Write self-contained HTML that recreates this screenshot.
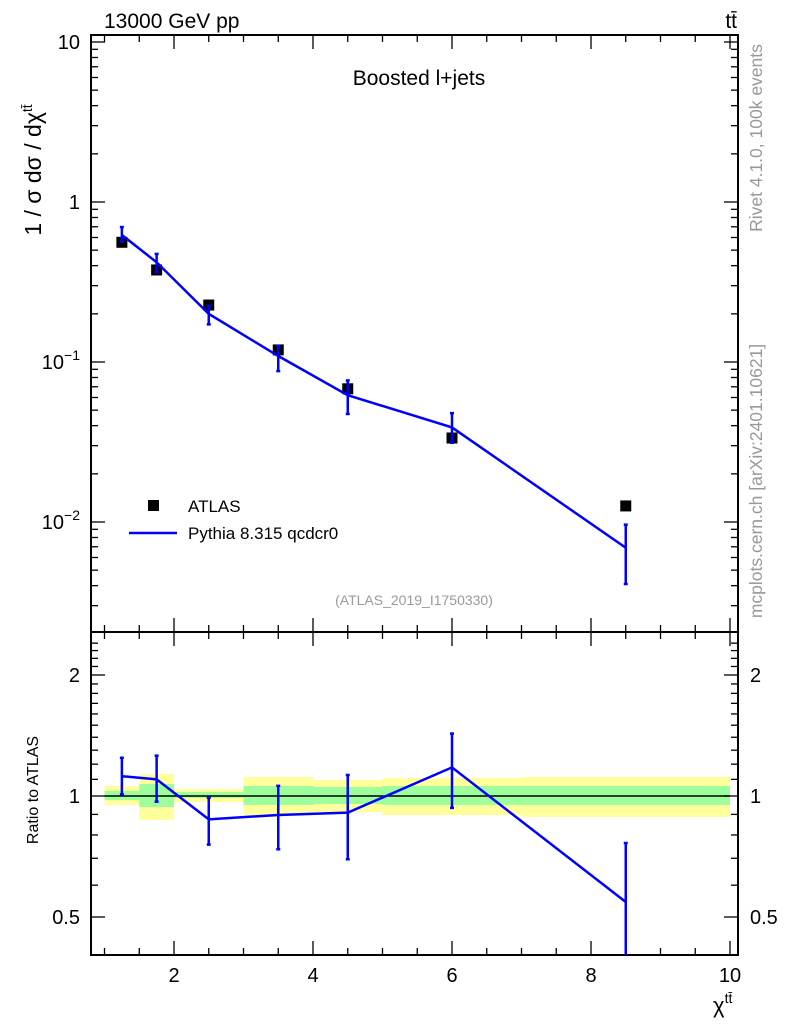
<!DOCTYPE html>
<html><head><meta charset="utf-8"><style>
html,body{margin:0;padding:0;background:#fff;}
svg{display:block;font-family:"Liberation Sans",sans-serif;}
</style></head><body>
<svg id="c" width="786" height="1024" viewBox="0 0 786 1024"></svg>
<script>
const binEdges=[1,1.5,2,3,4,5,7,10];
const xCenters=[1.25,1.75,2.5,3.5,4.5,6,8.5];
const dataVals=[0.56,0.376,0.227,0.119,0.068,0.0335,0.0126];
const mcVals=[0.622,0.42,0.2,0.109,0.062,0.039,0.0069];
const ratioVals=[1.12,1.10,0.875,0.897,0.909,1.178,0.545];
const ratioErrUp=[1.245,1.26,0.99,1.06,1.128,1.43,0.764];
const ratioErrDown=[1.01,0.968,0.757,0.737,0.696,0.934,0.325];
const statUp=[1.029,1.071,1.023,1.059,1.053,1.059,1.059];
const statDown=[0.977,0.939,0.989,0.95,0.955,0.95,0.95];
const totUp=[1.059,1.134,1.041,1.115,1.096,1.109,1.115];
const totDown=[0.95,0.872,0.966,0.897,0.912,0.897,0.887];
const xTicksMajor=[2,4,6,8,10];
const yMainLabels=[["10",1],["1",0],["10","-1"],["10","-2"]];
const ratioLabels=[2,1,0.5];

const NS="http://www.w3.org/2000/svg";
const svg=document.getElementById('c');
function el(t,a,p){const e=document.createElementNS(NS,t);for(const k in a)e.setAttribute(k,a[k]);(p||svg).appendChild(e);return e;}
const L=91,R=738,T=35,M=632,B=955;
const sx=v=>174+(v-2)*69.5;
const sy=v=>202-Math.log10(v)*160;
const sr=v=>796-Math.log10(v)*402;

const gb=el('g',{});
binEdges.slice(0,-1).forEach((e0,i)=>{
  const x0=sx(e0),x1=sx(binEdges[i+1]);
  const y1=el('rect',{x:x0,y:sr(totUp[i]),width:x1-x0,height:sr(totDown[i])-sr(totUp[i]),fill:'#ffff9c'},gb);
  
  const g1=el('rect',{x:x0,y:sr(statUp[i]),width:x1-x0,height:sr(statDown[i])-sr(statUp[i]),fill:'#9cff9c'},gb);
  
});
const ref=el('line',{x1:sx(1),x2:sx(10),y1:sr(1),y2:sr(1),stroke:'#000','stroke-width':1.5});


[[T,M,'main-plot-frame'],[M,B,'ratio-plot-frame']].forEach(([a,b,n])=>{const r=el('rect',{x:L,y:a,width:R-L,height:b-a,fill:'none',stroke:'#000','stroke-width':2});});

for(let v=1;v<=10.01;v+=0.5){
  const maj=xTicksMajor.includes(v);const len=maj?14:7;
  [[T,1],[M,-1],[M,1],[B,-1]].forEach(([y,d])=>el('line',{x1:sx(v),x2:sx(v),y1:y,y2:y+d*len,stroke:'#000','stroke-width':1.3}));
}
xTicksMajor.forEach(v=>{const t=el('text',{x:sx(v),y:982,'font-size':20,'text-anchor':'middle'});t.textContent=v;});
for(let d=-3;d<=1;d++)for(let m=1;m<=9;m++){const v=m*Math.pow(10,d);const y=sy(v);if(y<T||y>M)continue;const len=m==1?14:7;
  el('line',{x1:L,x2:L+len,y1:y,y2:y,stroke:'#000','stroke-width':1.3});el('line',{x1:R,x2:R-len,y1:y,y2:y,stroke:'#000','stroke-width':1.3});}
yMainLabels.forEach(([b,e])=>{const v=Math.pow(10,+e);const t=el('text',{x:80,y:sy(v)+7,'font-size':20,'text-anchor':'end'});
  if(e=="1"||e=="0"){t.textContent=(e=="1"?"10":"1");}else{t.textContent="10";const s=el('tspan',{dy:-9,'font-size':14},t);s.textContent="\u2212"+String(e).slice(1);}
  });
for(let v=0.4;v<=2.5;v+=0.1){const y=sr(v);if(y<M||y>B)continue;const maj=Math.abs(v-0.5)<1e-6||Math.abs(v-1)<1e-6||Math.abs(v-2)<1e-6;const len=maj?14:7;
  el('line',{x1:L,x2:L+len,y1:y,y2:y,stroke:'#000','stroke-width':1.3});el('line',{x1:R,x2:R-len,y1:y,y2:y,stroke:'#000','stroke-width':1.3});}
ratioLabels.forEach(v=>{[[80,'end'],[750,'start']].forEach(([x,a])=>{const t=el('text',{x:x,y:sr(v)+7,'font-size':20,'text-anchor':a});t.textContent=v;});});

const gd=el('g',{});
dataVals.forEach((v,i)=>{const x=sx(xCenters[i]),y=sy(v);
  const r=el('rect',{x:x-5.5,y:y-5.5,width:11,height:11,fill:'#000'},gd);});

const gm=el('g',{});
const pm=el('polyline',{points:mcVals.map((v,i)=>sx(xCenters[i])+','+sy(v)).join(' '),fill:'none',stroke:'#0000ff','stroke-width':2.5},gm);

function eb(x,y1,y2,g){el('line',{x1:x,x2:x,y1:y1,y2:y2,stroke:'#0000ff','stroke-width':2.5},g);el('line',{x1:x-2,x2:x+2,y1:y1,y2:y1,stroke:'#0000ff','stroke-width':2.5},g);el('line',{x1:x-2,x2:x+2,y1:y2,y2:y2,stroke:'#0000ff','stroke-width':2.5},g);}
mcVals.forEach((v,i)=>{eb(sx(xCenters[i]),sy(ratioErrUp[i]*dataVals[i]),sy(ratioErrDown[i]*dataVals[i]),gm);});

const gr=el('g',{});
const cp=el('clipPath',{id:'rc'});el('rect',{x:L,y:M,width:R-L,height:B-M},cp);
gr.setAttribute('clip-path','url(#rc)');
const pr=el('polyline',{points:ratioVals.map((v,i)=>sx(xCenters[i])+','+sr(v)).join(' '),fill:'none',stroke:'#0000ff','stroke-width':2.5},gr);

ratioVals.forEach((v,i)=>eb(sx(xCenters[i]),sr(ratioErrUp[i]),sr(ratioErrDown[i]),gr));

function txt(s,a,name){const t=el('text',a);t.textContent=s;return t;}
txt('13000 GeV pp',{x:104,y:28,'font-size':21},'energy-label');
txt('tt\u0304',{x:737,y:28,'font-size':21,'text-anchor':'end'},'process-label');
txt('Boosted l+jets',{x:419,y:85,'font-size':21,'text-anchor':'middle'},'plot-title');
txt('(ATLAS_2019_I1750330)',{x:414,y:605,'font-size':14,fill:'#999','text-anchor':'middle'},'analysis-id');
const lg=el('g',{});
const lm=el('rect',{x:148,y:500,width:11,height:11,fill:'#000'},lg);
txt('ATLAS',{x:188,y:512,'font-size':17},'legend-atlas-label');
const ll=el('line',{x1:129,x2:177,y1:533,y2:533,stroke:'#0000ff','stroke-width':2.5},lg);
txt('Pythia 8.315 qcdcr0',{x:188,y:539,'font-size':17},'legend-pythia-label');
const yt=txt('1 / \u03c3 d\u03c3 / d\u03c7',{transform:'translate(41,170) rotate(-90)','font-size':23,'text-anchor':'middle'},'y-axis-title');
const ys=el('tspan',{dy:-9,'font-size':14},yt);ys.textContent='tt\u0304';
txt('Ratio to ATLAS',{transform:'translate(38,790) rotate(-90)','font-size':16,'text-anchor':'middle'},'ratio-axis-title');
const xt=txt('\u03c7',{x:713,y:1013,'font-size':22},'x-axis-title');
const xs=el('tspan',{dy:-10,'font-size':14},xt);xs.textContent='tt\u0304';
txt('Rivet 4.1.0,  100k events',{transform:'translate(762,138) rotate(-90)','font-size':17.5,fill:'#999','text-anchor':'middle'},'rivet-version-label');
txt('mcplots.cern.ch [arXiv:2401.10621]',{transform:'translate(762,481) rotate(-90)','font-size':17.5,fill:'#999','text-anchor':'middle'},'source-label');
</script>
</body></html>
